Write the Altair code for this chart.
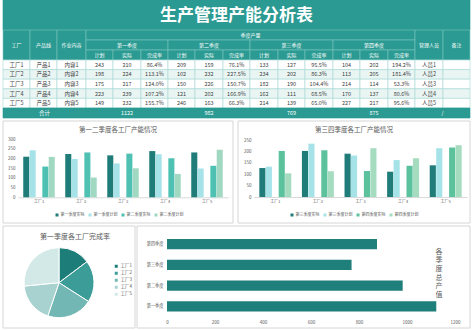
import altair as alt
import pandas as pd

FONT = "Noto Sans CJK SC"

# ---------------- data ----------------
title_text = "生产管理产能分析表"
factories = ["工厂1", "工厂2", "工厂3", "工厂4", "工厂5"]
products = ["产品1", "产品2", "产品3", "产品4", "产品5"]
contents = ["内容1", "内容2", "内容3", "内容4", "内容5"]
staff = ["人员1", "人员2", "人员3", "人员4", "人员5"]
quarters = ["第一季度", "第二季度", "第三季度", "第四季度"]
sub_heads = ["计划", "实际", "完成率"]

q1_plan = [243, 198, 175, 223, 149]
q1_actual = [210, 224, 217, 239, 232]
q1_rate = ["86.4%", "113.1%", "124.0%", "107.2%", "155.7%"]
q2_plan = [209, 102, 150, 121, 246]
q2_actual = [159, 232, 226, 202, 163]
q2_rate = ["76.1%", "227.5%", "150.7%", "166.9%", "66.3%"]
q3_plan = [133, 234, 182, 162, 214]
q3_actual = [127, 202, 190, 111, 139]
q3_rate = ["95.5%", "86.3%", "104.4%", "68.5%", "65.0%"]
q4_plan = [104, 113, 214, 170, 227]
q4_actual = [202, 205, 114, 137, 217]
q4_rate = ["194.2%", "181.4%", "53.3%", "80.6%", "95.6%"]
totals = [1122, 982, 769, 875]
q1_rate_values = [86.4, 113.1, 124.0, 107.2, 155.7]

series_12 = ["第一季度实际", "第一季度计划", "第二季度实际", "第二季度计划"]
series_34 = ["第三季度实际", "第三季度计划", "第四季度实际", "第四季度计划"]
vertical_title = "各季度总产值"

# ---------------- style ----------------
TEAL = "#2a9a92"
HDR_LINE = "#7cc7c0"
ROW_LINE = "#a6d8d3"
ALT_FILL = "#e8f5f3"
TXT = "#404040"
GRAY = "#595959"
BORDER = "#d6d6d6"
colors_12 = ["#1f7c79", "#a6e3e9", "#4fc1b3", "#a0d8c2"]
colors_34 = ["#1f7c79", "#a6e3e9", "#5cc29d", "#a5dcc0"]
pie_colors = ["#1d7d78", "#3c9c97", "#72b7b3", "#a8d2cf", "#d3e9e8"]
HBAR = "#1f7f7b"

W, H = 474, 330

# ---------------- table ----------------
col_edges = [3, 30, 57, 86, 113, 141, 168, 195, 223, 250, 278, 305, 333, 360, 388, 415, 443, 470]
row_edges = [60, 69.6, 79.2, 88.8, 98.4, 108]

cells = []


def add(x1, x2, y1, y2, text, fill, stroke, tcolor, fs):
    cells.append(dict(x1=x1, x2=x2, y1=y1, y2=y2, xc=(x1 + x2) / 2, yc=(y1 + y2) / 2,
                      text=text, fill=fill, stroke=stroke, tcolor=tcolor, fs=fs))


add(3, 470, 0, 30, "", TEAL, TEAL, "white", 5)
for i, lab in enumerate(["工厂", "产品线", "作业内容"]):
    add(col_edges[i], col_edges[i + 1], 30, 60, lab, TEAL, HDR_LINE, "white", 5)
add(col_edges[3], col_edges[15], 30, 40, "季度产量", TEAL, HDR_LINE, "white", 5)
for q in range(4):
    add(col_edges[3 + 3 * q], col_edges[6 + 3 * q], 40, 50, quarters[q], TEAL, HDR_LINE, "white", 5)
    for k in range(3):
        add(col_edges[3 + 3 * q + k], col_edges[4 + 3 * q + k], 50, 60, sub_heads[k], TEAL, HDR_LINE, "white", 5)
add(col_edges[15], col_edges[16], 30, 60, "管理人员", TEAL, HDR_LINE, "white", 5)
add(col_edges[16], col_edges[17], 30, 60, "备注", TEAL, HDR_LINE, "white", 5)

for r in range(5):
    vals = [factories[r], products[r], contents[r],
            q1_plan[r], q1_actual[r], q1_rate[r],
            q2_plan[r], q2_actual[r], q2_rate[r],
            q3_plan[r], q3_actual[r], q3_rate[r],
            q4_plan[r], q4_actual[r], q4_rate[r],
            staff[r], ""]
    fill = ALT_FILL if r % 2 == 1 else "white"
    for c, v in enumerate(vals):
        add(col_edges[c], col_edges[c + 1], row_edges[r], row_edges[r + 1], str(v), fill, ROW_LINE, TXT, 5.5)

add(col_edges[0], col_edges[3], 108, 118, "合计", TEAL, TEAL, "white", 5.5)
for q in range(4):
    add(col_edges[3 + 3 * q], col_edges[6 + 3 * q], 108, 118, str(totals[q]), TEAL, TEAL, "white", 5.5)
add(col_edges[15], col_edges[17], 108, 118, "/", TEAL, TEAL, "white", 5.5)

cell_df = pd.DataFrame(cells)


def tx():
    return alt.Scale(domain=[0, W], range=[0, W], nice=False, zero=False)


def ty():
    return alt.Scale(domain=[0, H], range=[0, H], nice=False, zero=False)


t_base = alt.Chart(cell_df)
t_rect = t_base.mark_rect(strokeWidth=0.6).encode(
    x=alt.X("x1:Q", scale=tx(), axis=None), x2="x2:Q",
    y=alt.Y("y1:Q", scale=ty(), axis=None), y2="y2:Q",
    fill=alt.Fill("fill:N", scale=None),
    stroke=alt.Stroke("stroke:N", scale=None),
)
t_text = t_base.mark_text(font=FONT).encode(
    x=alt.X("xc:Q", scale=tx(), axis=None),
    y=alt.Y("yc:Q", scale=ty(), axis=None),
    text="text:N",
    color=alt.Color("tcolor:N", scale=None),
    size=alt.Size("fs:Q", scale=None),
)
t_title = alt.Chart(pd.DataFrame({"t": [title_text], "x": [236.5], "y": [15.5]})).mark_text(
    font=FONT, fontSize=17, fontWeight="bold", color="white"
).encode(x=alt.X("x:Q", scale=tx(), axis=None), y=alt.Y("y:Q", scale=ty(), axis=None), text="t:N")

one = pd.DataFrame({"k": [0]})


def frame(x1, x2, y1, y2):
    return alt.Chart(one).mark_rect(fillOpacity=0, stroke=BORDER, strokeWidth=1).encode(
        x=alt.value(x1), x2=alt.value(x2), y=alt.value(y1), y2=alt.value(y2))


def label(text, x, y, size):
    return alt.Chart(one).mark_text(font=FONT, fontSize=size, color=GRAY).encode(
        x=alt.value(x), y=alt.value(y), text=alt.value(text))


def column_bars(series, value_lists, colors, ymax, xr, yr, legend_xy):
    rows = []
    for s, vals in zip(series, value_lists):
        for f, v in zip(factories, vals):
            rows.append({"工厂": f, "系列": s, "产量": v})
    df = pd.DataFrame(rows)
    offset_dom = [series[0], series[1], "间隔", series[2], series[3]]
    return alt.Chart(df).mark_bar().encode(
        x=alt.X("工厂:N", sort=factories,
                scale=alt.Scale(range=xr, paddingInner=0.25, paddingOuter=0.125),
                axis=alt.Axis(title=None, orient="bottom", offset=yr[0] - H, labelAngle=0,
                              labelFontSize=4, labelColor=GRAY, ticks=False,
                              domainColor="#d9d9d9", labelPadding=2)),
        xOffset=alt.XOffset("系列:N", scale=alt.Scale(domain=offset_dom, paddingInner=0.05)),
        y=alt.Y("产量:Q", scale=alt.Scale(domain=[0, ymax], range=yr, nice=False),
                axis=alt.Axis(title=None, orient="left", offset=-xr[0],
                              values=list(range(0, ymax + 1, 50)), labelFontSize=4.5,
                              labelColor=GRAY, ticks=False, domain=False, grid=False,
                              labelPadding=3)),
        color=alt.Color("系列:N", scale=alt.Scale(domain=series, range=colors),
                        legend=alt.Legend(title=None, orient="none", legendX=legend_xy[0],
                                          legendY=legend_xy[1], direction="horizontal",
                                          symbolType="square", symbolSize=9, symbolStrokeWidth=0,
                                          labelFontSize=4, labelColor=GRAY, columnPadding=3,
                                          labelOffset=1.5)),
    )


bars1 = column_bars(series_12, [q1_actual, q1_plan, q2_actual, q2_plan], colors_12, 300,
                    [18, 228], [197.3, 139.3], (55, 213))
bars2 = column_bars(series_34, [q3_actual, q3_plan, q4_actual, q4_plan], colors_34, 250,
                    [254, 467], [197, 140], (290, 213))

# pie
pie_df = pd.DataFrame({"工厂": factories, "完成率": q1_rate_values, "序": list(range(5))})
pie_arc = alt.Chart(pie_df).mark_arc(stroke="white", strokeWidth=1, radius=35).encode(
    x=alt.value(59), y=alt.value(282.7),
    theta=alt.Theta("完成率:Q"),
    order=alt.Order("序:Q"),
    color=alt.Color("工厂:N", scale=alt.Scale(domain=factories, range=pie_colors),
                    legend=alt.Legend(title=None, orient="none", legendX=114, legendY=264,
                                      symbolType="square", symbolSize=9, symbolStrokeWidth=0,
                                      labelFontSize=4.5, labelColor=GRAY, rowPadding=2,
                                      labelOffset=2)),
)

# horizontal bars
hbar_df = pd.DataFrame({"季度": quarters, "总产值": totals})
hbars = alt.Chart(hbar_df).mark_bar(color=HBAR).encode(
    x=alt.X("总产值:Q", scale=alt.Scale(domain=[0, 1200], range=[167, 455], nice=False),
            axis=alt.Axis(title=None, orient="bottom", offset=316.7 - H, format="d",
                          values=list(range(0, 1201, 200)), grid=False, domain=False,
                          ticks=False, labelFontSize=4.5, labelColor=GRAY, labelPadding=3,
                          labelFlush=False, labelOverlap=False)),
    y=alt.Y("季度:N", sort=quarters[::-1],
            scale=alt.Scale(range=[233.7, 316.7], paddingInner=0.5, paddingOuter=0.25),
            axis=alt.Axis(title=None, orient="left", offset=-167, ticks=False, domain=False,
                          labelFontSize=4.2, labelColor=GRAY, labelPadding=4)),
)
vtext = alt.Chart(one).mark_text(font=FONT, fontSize=7, color=GRAY, lineHeight=8.7,
                                 baseline="middle").encode(
    x=alt.value(439), y=alt.value(251.5), text=alt.value(list(vertical_title)))

chart = alt.layer(
    t_rect, t_text, t_title,
    frame(3, 233, 121, 223), frame(238, 470, 121, 223),
    frame(3, 135, 226, 328), frame(137, 470, 226, 328),
    bars1, bars2, pie_arc, hbars,
    label("第一二季度各工厂产能情况", 118, 130, 6.5),
    label("第三四季度各工厂产能情况", 354, 130, 6.5),
    label("第一季度各工厂完成率", 75, 236.5, 7),
    vtext,
).resolve_scale(
    x="independent", y="independent", color="independent", xOffset="independent",
    theta="independent", fill="independent", stroke="independent", size="independent",
).properties(
    width=W, height=H, padding=0, autosize=alt.AutoSizeParams(type="none")
).configure(font=FONT).configure_view(stroke=None)

chart.save("out.html", embed_options={"renderer": "svg", "actions": False})
